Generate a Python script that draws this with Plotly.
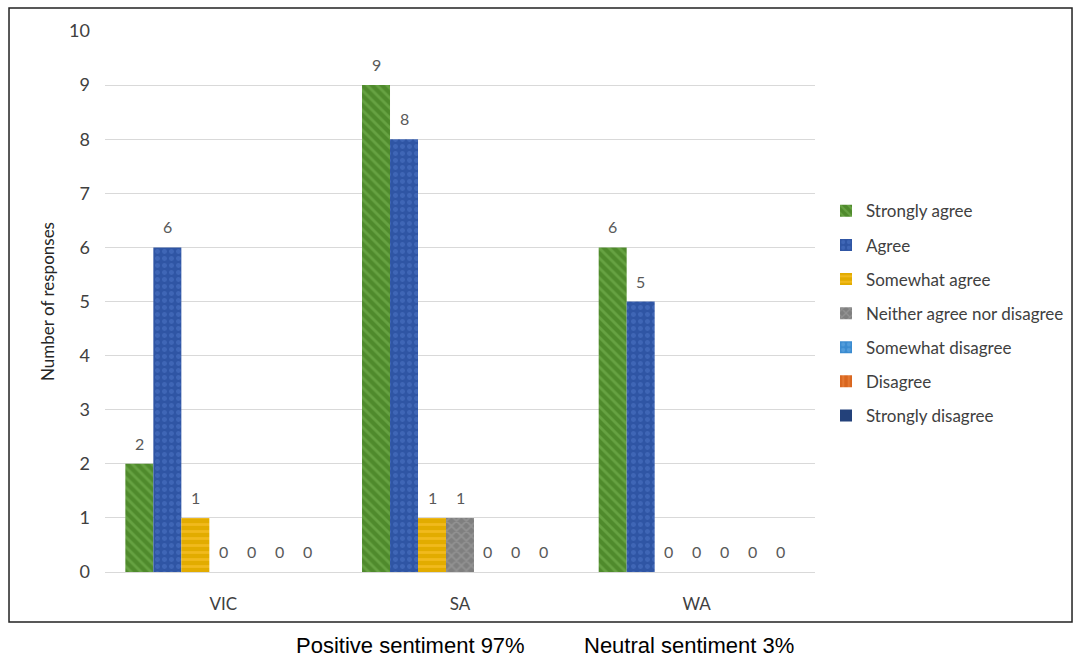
import plotly.graph_objects as go

# Survey responses by state
states = ["VIC", "SA", "WA"]
responses = ["Strongly agree", "Agree", "Somewhat agree", "Neither agree nor disagree",
             "Somewhat disagree", "Disagree", "Strongly disagree"]
strongly_agree = [2, 9, 6]
agree = [6, 8, 5]
somewhat_agree = [1, 1, 0]
neither = [0, 1, 0]
somewhat_disagree = [0, 0, 0]
disagree = [0, 0, 0]
strongly_disagree = [0, 0, 0]
series_values = [strongly_agree, agree, somewhat_agree, neither,
                 somewhat_disagree, disagree, strongly_disagree]

y_ticks = list(range(0, 11))
footer_texts = ["Positive sentiment 97%", "Neutral sentiment 3%"]

# Fill colour, pattern colour and pattern shape per response level
styles = [
    ("#4F8A2C", "#7DB957", "\\"),
    ("#2F55A4", "#4F78C8", "."),
    ("#E2AC00", "#FFC83A", "-"),
    ("#7F7F7F", "#A6A6A6", "x"),
    ("#3A8BD0", "#6AAEE6", "."),
    ("#D9661F", "#F08A45", "|"),
    ("#23417A", "#23417A", ""),
]

FONT = "Lato, 'Open Sans', sans-serif"
BARGAP = 0.172

fig = go.Figure()
for i, (name, vals) in enumerate(zip(responses, series_values)):
    bg, fg, shape = styles[i]
    fig.add_trace(go.Bar(
        name=name,
        x=states,
        y=vals,
        marker=dict(
            color=bg,
            line=dict(width=0),
            pattern=dict(shape=shape, fgcolor=fg, bgcolor=bg, size=7, solidity=0.4),
        ),
        legendgroup=name,
    ))

# Value labels above each bar, placed at the bar's centre within its group
n_series = len(series_values)
slot = (1 - BARGAP) / n_series
for i, vals in enumerate(series_values):
    offset = -(1 - BARGAP) / 2 + (i + 0.5) * slot
    for j, v in enumerate(vals):
        fig.add_annotation(x=j + offset, y=v, text=str(v), showarrow=False,
                           xref="x", yref="y", yanchor="bottom", yshift=9,
                           font=dict(size=16, color="#595959", family=FONT))

fig.update_layout(
    width=1073,
    height=660,
    paper_bgcolor="white",
    plot_bgcolor="white",
    barmode="group",
    bargap=BARGAP,
    bargroupgap=0,
    margin=dict(l=105, r=258, t=31, b=88, autoexpand=False),
    font=dict(family=FONT, size=16, color="#404040"),
    legend=dict(
        x=1.0155, y=0.70, xanchor="left", yanchor="top",
        font=dict(size=17, color="#404040", family=FONT),
        tracegroupgap=9,
        itemwidth=30,
        bgcolor="rgba(0,0,0,0)",
    ),
    xaxis=dict(
        showgrid=False,
        showline=True,
        linecolor="#D9D9D9",
        linewidth=1,
        ticks="",
        ticklabelstandoff=17,
        tickfont=dict(size=17, color="#404040"),
    ),
    yaxis=dict(
        range=[0, 10],
        tickvals=y_ticks,
        showgrid=True,
        gridcolor="#D9D9D9",
        gridwidth=1,
        zeroline=False,
        showline=False,
        ticks="",
        ticklabelstandoff=14,
        tickfont=dict(size=18, color="#404040"),
        title=dict(text="Number of responses", font=dict(size=17, color="#262626"), standoff=10),
    ),
)

# Outer border around the chart area
fig.add_shape(type="rect", xref="paper", yref="paper",
              x0=-0.1352, x1=1.3620, y0=-0.0924, y1=1.0425,
              line=dict(color="#222222", width=1.5), fillcolor="rgba(0,0,0,0)", layer="below")

# Sentiment summary under the chart
for text, xc in zip(footer_texts, [0.4296, 0.8225]):
    fig.add_annotation(text=text, xref="paper", yref="paper", x=xc, y=-0.135,
                       xanchor="center", yanchor="middle", showarrow=False,
                       font=dict(family="'Liberation Sans', Arial, sans-serif", size=22, color="#000000"))

fig.write_html("out.html")
